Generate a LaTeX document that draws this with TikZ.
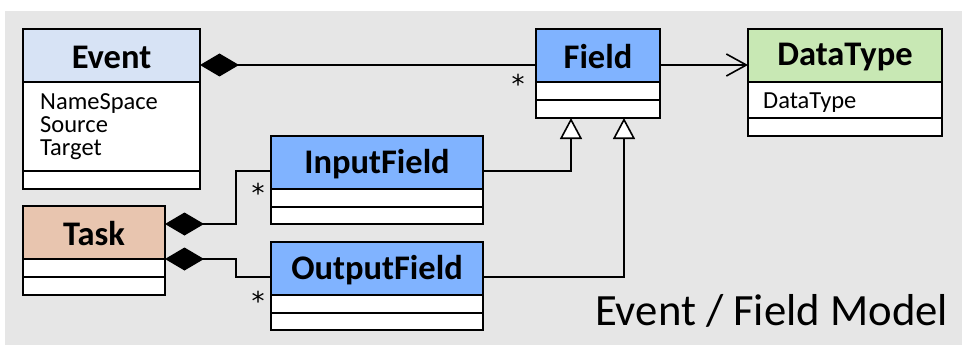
\documentclass[tikz,border=0pt]{standalone}
\usepackage{fontspec}
\setmainfont{Carlito}
\newfontfamily\starfont{DejaVu Sans}
\usetikzlibrary{arrows.meta,calc}

\definecolor{bggray}{HTML}{E6E6E6}
\definecolor{eventblue}{HTML}{D7E3F5}
\definecolor{fieldblue}{HTML}{80B3FF}
\definecolor{typegreen}{HTML}{C8E8B4}
\definecolor{taskpeach}{HTML}{E8C5AF}

\tikzset{
  x=1pt, y=-1pt,
  cell/.style={draw=black, line width=1.6pt, inner sep=0pt, outer sep=0pt, fill=white},
  classname/.style={font=\fontsize{34.5}{34.5}\selectfont\bfseries},
  attr/.style={font=\fontsize{24.5}{24.5}\selectfont, anchor=base west, inner sep=0pt},
  mult/.style={font=\starfont\fontsize{26}{26}\selectfont, anchor=base, inner sep=0pt},
  conn/.style={draw=black, line width=1.6pt},
  comp/.style={conn, {Diamond[length=39pt, width=23pt, fill=black]}-},
  assoc/.style={conn, -{Straight Barb[length=20pt, width=22pt, line width=1.6pt]}},
  inherit/.style={conn, -{Triangle[open, length=21pt, width=22pt, fill=white, line width=1.6pt]}},
}

% a compartment spanning x1..x2, y1..y2 (pixels, y downward)
\newcommand{\cellbox}[6]{%
  \node[cell, #6, minimum width={#4-#2}, minimum height={#5-#3}] (#1) at ({(#2+#4)/2},{(#3+#5)/2}) {};}

\begin{document}
\begin{tikzpicture}
  \useasboundingbox (0,0) rectangle (970,345);
  \fill[bggray] (5,11) rectangle (962,345);

  % Event
  \cellbox{evh}{23}{29}{200}{82}{fill=eventblue}
  \cellbox{eva}{23}{82}{200}{171}{}
  \cellbox{evo}{23}{171}{200}{189}{}
  \node[classname] at ($(evh)+(0,1.5)$) {Event};
  \node[attr] (ev1) at (40,110) {NameSpace};
  \node[attr] (ev2) at (40,132.5) {Source};
  \node[attr] (ev3) at (40,155) {Target};

  % Field
  \cellbox{fh}{536}{29}{660}{82}{fill=fieldblue}
  \cellbox{fa}{536}{82}{660}{100}{}
  \cellbox{fo}{536}{100}{660}{118}{}
  \node[classname] at ($(fh)+(0,1.5)$) {Field};

  % DataType
  \cellbox{dth}{748}{29}{942}{82}{fill=typegreen}
  \cellbox{dta}{748}{82}{942}{118}{}
  \cellbox{dto}{748}{118}{942}{136}{}
  \node[classname] at ($(dth)+(0,1.5)$) {DataType};
  \node[attr] (dt1) at (763,108) {DataType};

  % InputField
  \cellbox{ifh}{271}{136}{483}{189}{fill=fieldblue}
  \cellbox{ifa}{271}{189}{483}{207}{}
  \cellbox{ifo}{271}{207}{483}{224}{}
  \node[classname] at ($(ifh)+(0,1.5)$) {InputField};

  % OutputField
  \cellbox{ofh}{271}{242}{483}{295}{fill=fieldblue}
  \cellbox{ofa}{271}{295}{483}{313}{}
  \cellbox{ofo}{271}{313}{483}{330}{}
  \node[classname] at ($(ofh)+(0,1.5)$) {OutputField};

  % Task
  \cellbox{th}{23}{206}{165}{259}{fill=taskpeach}
  \cellbox{ta}{23}{259}{165}{277}{}
  \cellbox{to}{23}{277}{165}{295}{}
  \node[classname] at ($(th)+(0,1.5)$) {Task};

  % bend points of the connectors
  \coordinate (evout) at (evh.east |- 0,65);
  \coordinate (fin) at (fh.west |- 0,65);
  \coordinate (fout) at (fh.east |- 0,65);
  \coordinate (dtin) at (dth.west |- 0,65);
  \coordinate (inbase) at (571,0);
  \coordinate (outbase) at (624,0);
  \coordinate (ifin) at (ifh.west |- 0,171);
  \coordinate (ifout) at (ifh.east |- 0,171);
  \coordinate (ofin) at (ofh.west |- 0,277);
  \coordinate (ofout) at (ofh.east |- 0,277);
  \coordinate (tk1) at (th.east |- 0,224);
  \coordinate (tk2) at (th.south east);

  % Event <>-- Field
  \draw[comp] (evout) -- (fin);
  % Field --> DataType
  \draw[assoc] (fout) -- (dtin);
  % InputField / OutputField generalise Field
  \draw[inherit] (ifout) -| (inbase |- fo.south);
  \draw[inherit] (ofout) -| (outbase |- fo.south);
  % Task <>-- InputField, Task <>-- OutputField
  \draw[comp] (tk1) -- (236,224) |- (ifin);
  \draw[comp] (tk2) -- (236,259) |- (ofin);

  % multiplicities
  \node[mult] (m1) at (518,94) {*};
  \node[mult] (m2) at (258,202) {*};
  \node[mult] (m3) at (258,310) {*};

  % title
  \node[font=\fontsize{44.7}{44.7}\selectfont, anchor=base west, inner sep=0pt] (title) at (595,325) {Event / Field Model};
\end{tikzpicture}
\end{document}
